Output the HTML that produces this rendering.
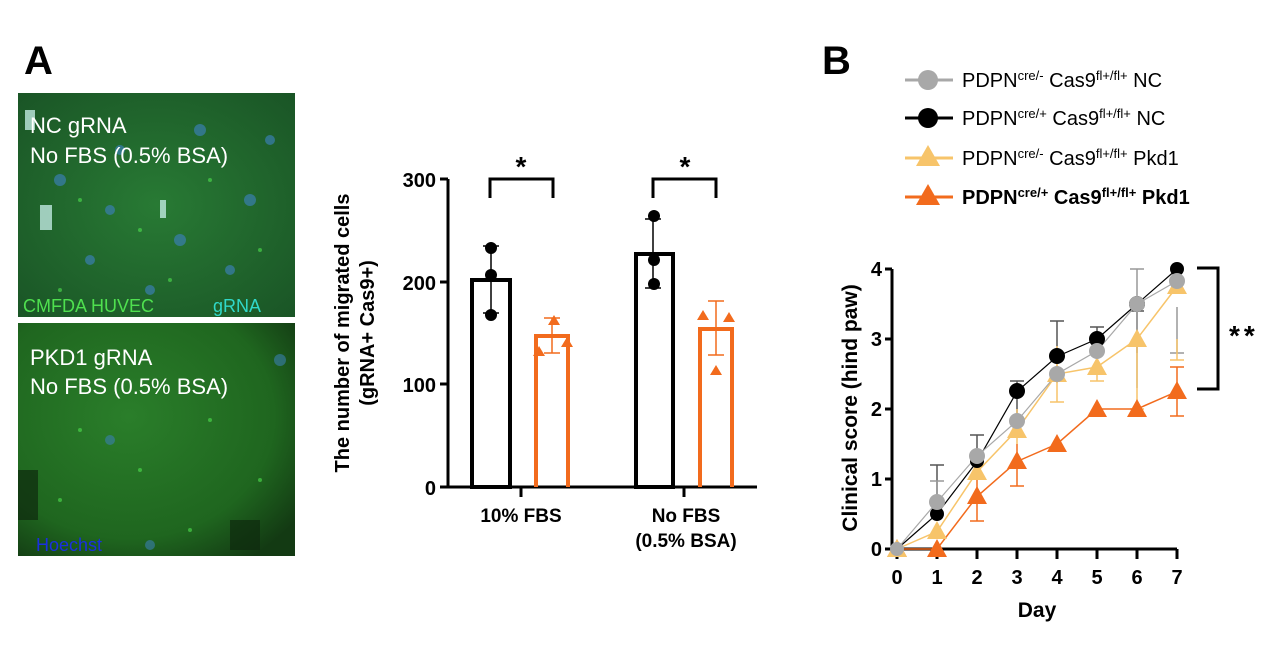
<!DOCTYPE html>
<html><head><meta charset="utf-8"><style>
body{margin:0;background:#fff;width:1280px;height:653px;overflow:hidden;font-family:"Liberation Sans",Arial,sans-serif}
</style></head><body>
<svg width="1280" height="653" viewBox="0 0 1280 653" xmlns="http://www.w3.org/2000/svg" font-family="Liberation Sans, Arial, sans-serif">
<defs>
<radialGradient id="g1" cx="50%" cy="50%" r="70%"><stop offset="0" stop-color="#287a34"/><stop offset="1" stop-color="#1a5526"/></radialGradient>
<radialGradient id="g2" cx="40%" cy="40%" r="75%"><stop offset="0" stop-color="#2a7e2a"/><stop offset="0.7" stop-color="#1f661f"/><stop offset="1" stop-color="#133a13"/></radialGradient>
</defs>
<text x="24" y="74" font-size="40" font-weight="bold">A</text>
<text x="822" y="74" font-size="40" font-weight="bold">B</text>
<rect x="18" y="93" width="277" height="224" fill="url(#g1)"/>
<g fill="#3a7fb0" opacity="0.7"><circle cx="60" cy="180" r="6"/><circle cx="120" cy="150" r="5"/><circle cx="200" cy="130" r="6"/><circle cx="250" cy="200" r="6"/><circle cx="90" cy="260" r="5"/><circle cx="180" cy="240" r="6"/><circle cx="270" cy="140" r="5"/><circle cx="150" cy="290" r="5"/><circle cx="230" cy="270" r="5"/><circle cx="110" cy="210" r="5"/></g>
<g fill="#4fe04f" opacity="0.6"><circle cx="80" cy="200" r="2"/><circle cx="140" cy="230" r="2"/><circle cx="210" cy="180" r="2"/><circle cx="260" cy="250" r="2"/><circle cx="60" cy="290" r="2"/><circle cx="170" cy="280" r="2"/></g>
<g fill="#bfe8e0" opacity="0.8"><rect x="40" y="205" width="12" height="25"/><rect x="160" y="200" width="6" height="18"/><rect x="25" y="110" width="10" height="20"/></g>
<text x="30" y="133" font-size="22" fill="#fff">NC gRNA</text>
<text x="30" y="163" font-size="22" fill="#fff">No FBS (0.5% BSA)</text>
<text x="23" y="312" font-size="18" fill="#4fe04f">CMFDA HUVEC</text>
<text x="213" y="312" font-size="18" fill="#30d8c8">gRNA</text>
<rect x="18" y="323" width="277" height="233" fill="url(#g2)"/>
<g fill="#0e2a0e" opacity="0.7"><rect x="18" y="470" width="20" height="50"/><rect x="230" y="520" width="30" height="30"/></g>
<g fill="#3a7fb0" opacity="0.6"><circle cx="110" cy="440" r="5"/><circle cx="280" cy="360" r="6"/><circle cx="150" cy="545" r="5"/></g>
<g fill="#4fe04f" opacity="0.6"><circle cx="80" cy="430" r="2"/><circle cx="140" cy="470" r="2"/><circle cx="210" cy="420" r="2"/><circle cx="260" cy="480" r="2"/><circle cx="60" cy="500" r="2"/><circle cx="190" cy="530" r="2"/></g>
<text x="30" y="365" font-size="22" fill="#fff">PKD1 gRNA</text>
<text x="30" y="394" font-size="22" fill="#fff">No FBS (0.5% BSA)</text>
<text x="36" y="551" font-size="18" fill="#1a2fe0">Hoechst</text>
<!-- bar chart -->
<text transform="translate(349,333) rotate(-90)" font-size="20" font-weight="bold" text-anchor="middle">The number of migrated cells</text>
<text transform="translate(374,333) rotate(-90)" font-size="20" font-weight="bold" text-anchor="middle">(gRNA+ Cas9+)</text>
<g stroke="#000" stroke-width="3" fill="none">
<path d="M448,179 V487 H757"/>
<path d="M440,179 H448 M440,282 H448 M440,384 H448 M440,487 H448"/>
<path d="M521,487 V497 M684,487 V497"/>
<rect x="472" y="280" width="38" height="207" stroke-width="4"/>
<rect x="636" y="254" width="37" height="233" stroke-width="4"/>
<path d="M490,198 V179 H553 V198 M653,198 V179 H716 V198"/>
</g>
<g stroke="#f26b1d" stroke-width="4" fill="none">
<path d="M536,487 V336 H568 V487"/><path d="M700,487 V329 H732 V487"/>
</g>
<g font-size="20" font-weight="bold" text-anchor="end"><text x="436" y="187">300</text><text x="436" y="290">200</text><text x="436" y="392">100</text><text x="436" y="495">0</text></g>
<g font-size="19" font-weight="bold" text-anchor="middle"><text x="521" y="522">10% FBS</text><text x="686" y="522">No FBS</text><text x="686" y="547">(0.5% BSA)</text></g>
<g font-size="28" font-weight="bold" text-anchor="middle"><text x="521" y="176">*</text><text x="685" y="176">*</text></g>
<g stroke="#000" stroke-width="1.5"><path d="M491,246 V313 M483,246 H499 M483,313 H499 M653,219 V288 M645,219 H661 M645,288 H661"/></g>
<g fill="#000"><circle cx="491" cy="248" r="6"/><circle cx="491" cy="275" r="6"/><circle cx="491" cy="315" r="6"/><circle cx="654" cy="216" r="6"/><circle cx="654" cy="260" r="6"/><circle cx="654" cy="284" r="6"/></g>
<g stroke="#f26b1d" stroke-width="1.5"><path d="M552,318 V353 M544,318 H560 M544,353 H560 M716,301 V355 M708,301 H724 M708,355 H724"/></g>
<g fill="#f26b1d"><path d="M554,315 l6,10 h-12z M539,346 l6,10 h-12z M567,337 l6,10 h-12z M716,365 l6,10 h-12z M703,310 l6,10 h-12z M729,312 l6,10 h-12z"/></g>
<!-- legend -->
<g stroke-width="3"><line x1="905" y1="80" x2="953" y2="80" stroke="#a8a8a8"/><line x1="905" y1="118" x2="953" y2="118" stroke="#000"/><line x1="905" y1="158" x2="953" y2="158" stroke="#f7c46a"/><line x1="905" y1="197" x2="953" y2="197" stroke="#f26b1d"/></g>
<circle cx="928" cy="80" r="10" fill="#a8a8a8"/><circle cx="928" cy="118" r="10" fill="#000"/>
<path d="M928,145 l12,21 h-24z" fill="#f7c46a"/><path d="M928,184 l12,21 h-24z" fill="#f26b1d"/>
<g font-size="20"><text x="962" y="87">PDPN<tspan font-size="13" dy="-7">cre/-</tspan><tspan dy="7"> Cas9</tspan><tspan font-size="13" dy="-7">fl+/fl+</tspan><tspan dy="7"> NC</tspan></text>
<text x="962" y="125">PDPN<tspan font-size="13" dy="-7">cre/+</tspan><tspan dy="7"> Cas9</tspan><tspan font-size="13" dy="-7">fl+/fl+</tspan><tspan dy="7"> NC</tspan></text>
<text x="962" y="165">PDPN<tspan font-size="13" dy="-7">cre/-</tspan><tspan dy="7"> Cas9</tspan><tspan font-size="13" dy="-7">fl+/fl+</tspan><tspan dy="7"> Pkd1</tspan></text>
<text x="962" y="204" font-weight="bold">PDPN<tspan font-size="13" dy="-7">cre/+</tspan><tspan dy="7"> Cas9</tspan><tspan font-size="13" dy="-7">fl+/fl+</tspan><tspan dy="7"> Pkd1</tspan></text></g>
<!-- line chart -->
<text transform="translate(857,408) rotate(-90)" font-size="21" font-weight="bold" text-anchor="middle">Clinical score (hind paw)</text>
<g stroke="#000" stroke-width="3" fill="none"><path d="M892,269 V549 H1177"/>
<path d="M885,269 H892 M885,339 H892 M885,409 H892 M885,479 H892 M885,549 H892"/>
<path d="M897,549 V559 M937,549 V559 M977,549 V559 M1017,549 V559 M1057,549 V559 M1097,549 V559 M1137,549 V559 M1177,549 V559"/>
<path d="M1197,268 H1218 V389 H1197"/></g>
<g font-size="20" font-weight="bold" text-anchor="end"><text x="882" y="276">4</text><text x="882" y="346">3</text><text x="882" y="416">2</text><text x="882" y="486">1</text><text x="882" y="556">0</text></g>
<g font-size="20" font-weight="bold" text-anchor="middle"><text x="897" y="584">0</text><text x="937" y="584">1</text><text x="977" y="584">2</text><text x="1017" y="584">3</text><text x="1057" y="584">4</text><text x="1097" y="584">5</text><text x="1137" y="584">6</text><text x="1177" y="584">7</text>
<text x="1037" y="617" font-size="21">Day</text></g>
<text x="1229" y="345" font-size="28" font-weight="bold" letter-spacing="4">**</text>
<g stroke-width="1.5" fill="none">
<path stroke="#555" d="M937,514 V465 M930,465 H944 M977,456 V435 M970,435 H984 M1017,421 V381 M1010,381 H1024 M1057,357 V321 M1050,321 H1064 M1097,339 V327 M1090,327 H1104 M1137,353 V311 M1130,311 H1144"/>
<path stroke="#999" d="M937,502 V481 M930,481 H944 M1057,383 V349 M1137,388 V269 M1130,269 H1144 M1177,353 V307 M1170,353 H1184"/>
<path stroke="#f7c46a" d="M1017,444 V409 M1057,402 V346 M1050,402 H1064 M1097,381 V367 M1090,381 H1104 M1137,409 V339 M1130,409 H1144 M1177,360 V339 M1170,360 H1184"/>
<path stroke="#f26b1d" d="M977,521 V479 M970,521 H984 M1017,486 V444 M1010,486 H1024 M1177,416 V367 M1170,416 H1184 M1170,367 H1184"/>
</g>
<polyline fill="none" stroke="#f26b1d" stroke-width="1.5" points="897,549 937,549 977,496.5 1017,461.5 1057,444 1097,409 1137,409 1177,391.5"/>
<polyline fill="none" stroke="#f7c46a" stroke-width="1.5" points="897,549 937,531.5 977,472 1017,430 1057,374 1097,367 1137,339 1177,286.5"/>
<polyline fill="none" stroke="#000" stroke-width="1.2" points="897,549 937,514 977,461.5 1017,391.5 1057,356.5 1097,339 1137,304 1177,269"/>
<polyline fill="none" stroke="#a8a8a8" stroke-width="1.2" points="897,549 937,502 977,456 1017,421 1057,374 1097,351 1137,304 1177,281"/>
<g fill="#f26b1d"><path d="M897,539 l10,18h-20z M937,539 l10,18h-20z M977,486 l10,18h-20z M1017,451 l10,18h-20z M1057,434 l10,18h-20z M1097,399 l10,18h-20z M1137,399 l10,18h-20z M1177,381 l10,18h-20z"/></g>
<g fill="#f7c46a"><path d="M897,539 l10,18h-20z M937,521 l10,18h-20z M977,462 l10,18h-20z M1017,420 l10,18h-20z M1057,364 l10,18h-20z M1097,357 l10,18h-20z M1137,329 l10,18h-20z M1177,276 l10,18h-20z"/></g>
<g fill="#000"><circle cx="937" cy="514" r="7"/><circle cx="977" cy="461" r="7"/><circle cx="1017" cy="391" r="8"/><circle cx="1057" cy="356" r="8"/><circle cx="1097" cy="339" r="8"/><circle cx="1137" cy="304" r="8"/><circle cx="1177" cy="269" r="7"/></g>
<g fill="#a8a8a8"><circle cx="897" cy="549" r="7"/><circle cx="937" cy="502" r="8"/><circle cx="977" cy="456" r="8"/><circle cx="1017" cy="421" r="8"/><circle cx="1057" cy="374" r="8"/><circle cx="1097" cy="351" r="8"/><circle cx="1137" cy="304" r="8"/><circle cx="1177" cy="281" r="8"/></g>
</svg>
</body></html>
